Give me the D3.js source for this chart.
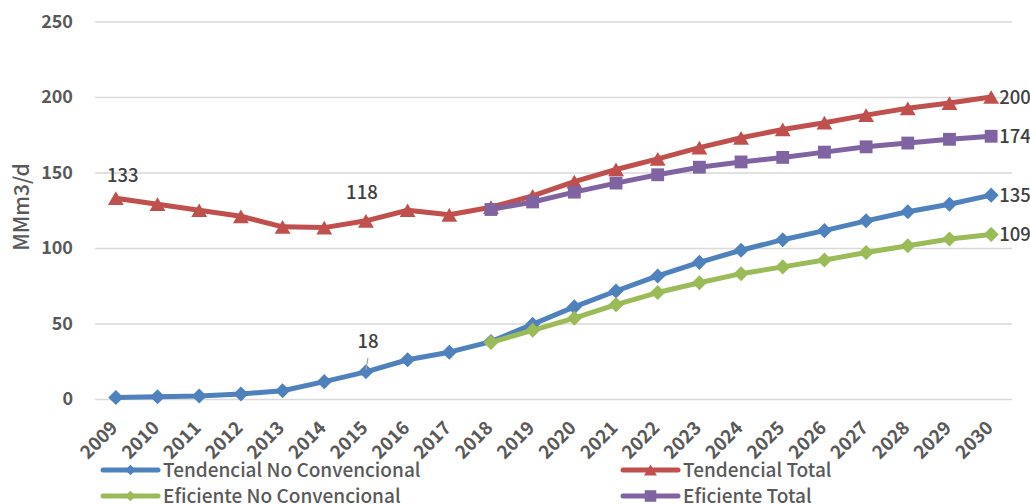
<!DOCTYPE html>
<html>
<head>
<meta charset="utf-8">
<script src="https://cdn.jsdelivr.net/npm/d3@7"></script>
<style>
  html, body { margin: 0; padding: 0; background: #fff; }
  svg { display: block; font-family: "Noto Sans CJK SC", "Noto Sans", sans-serif; }
</style>
</head>
<body>
<svg id="chart" width="1030" height="504"></svg>
<script>
// Gas demand scenarios (MMm3/d), 2009-2030
const years = d3.range(2009, 2031).map(String);
const tendencialNoConv = [1, 1.5, 2, 3.3, 5.5, 11.5, 18, 26, 31, 38, 49.5, 61, 71.5, 81.5, 90.5, 98.5, 105.5, 111.5, 118, 124, 129, 135];
const tendencialTotal  = [133, 129, 125, 121, 114, 113.5, 118, 125, 122, 127, 134.5, 144, 152, 159, 166.5, 173, 178.5, 183, 188, 192.5, 196, 200];
const eficienteNoConv  = [null, null, null, null, null, null, null, null, null, 37.5, 45.5, 53.5, 62.5, 70.5, 77, 83, 87.5, 92, 97, 101.5, 106, 109];
const eficienteTotal   = [null, null, null, null, null, null, null, null, null, 125.5, 130.5, 137, 143, 148.5, 153.5, 157, 160, 163.5, 167, 169.5, 172, 174];
const yTicks = [0, 50, 100, 150, 200, 250];

// Series in drawing order; legend is laid out row by row in two columns
const series = [
  { name: "Tendencial No Convencional", values: tendencialNoConv, color: "#4F81BD", symbol: "diamond" },
  { name: "Tendencial Total",           values: tendencialTotal,  color: "#C0504D", symbol: "triangle" },
  { name: "Eficiente No Convencional",  values: eficienteNoConv,  color: "#9BBB59", symbol: "diamond" },
  { name: "Eficiente Total",            values: eficienteTotal,   color: "#8064A2", symbol: "square" }
];

// Point labels: series index, year, placement
const pointLabels = [
  { s: 1, year: "2009", pos: "aboveRight" },
  { s: 1, year: "2015", pos: "aboveLeft" },
  { s: 0, year: "2015", pos: "leader" },
  { s: 1, year: "2030", pos: "right" },
  { s: 3, year: "2030", pos: "right" },
  { s: 0, year: "2030", pos: "right" },
  { s: 2, year: "2030", pos: "right" }
];

const FONT = "'Noto Sans CJK SC', 'Noto Sans', sans-serif";
const svg = d3.select("#chart");
const plot = { left: 95, right: 1012, top: 21.5, bottom: 399 };

const x = d3.scaleBand().domain(years).range([plot.left, plot.right]);
const cx = d => x(d) + x.bandwidth() / 2;
const y = d3.scaleLinear().domain([0, 250]).range([plot.bottom, plot.top]);

// Gridlines and y tick labels
const yAxis = d3.axisLeft(y).tickValues(yTicks).tickSize(-(plot.right - plot.left)).tickPadding(22);
const gy = svg.append("g").attr("transform", `translate(${plot.left},0)`).call(yAxis);
gy.select(".domain").remove();
gy.selectAll(".tick line").attr("stroke", "#D9D9D9").attr("stroke-width", 1.5);
gy.selectAll(".tick text")
  .attr("fill", "#595959").attr("font-size", 18).attr("font-weight", 600)
  .attr("font-family", FONT);

// X axis labels, rotated
const xAxis = d3.axisBottom(x).tickSize(0).tickPadding(0);
const gx = svg.append("g").attr("transform", `translate(0,${plot.bottom})`).call(xAxis);
gx.select(".domain").remove();
gx.selectAll(".tick text")
  .attr("fill", "#595959").attr("font-size", 18.5).attr("font-weight", 600)
  .attr("font-family", FONT)
  .attr("text-anchor", "end")
  .attr("dy", null).attr("y", 0)
  .attr("transform", "translate(3,30) rotate(-45)");

// Y axis title
svg.append("text")
  .attr("transform", "translate(29,207) rotate(-90)")
  .attr("text-anchor", "middle")
  .attr("fill", "#595959").attr("font-size", 21).attr("font-weight", 500)
  .text("MMm3/d");

// Marker shapes (plot markers and smaller legend markers)
const symbolTypes = { diamond: d3.symbolDiamond2, triangle: d3.symbolTriangle2, square: d3.symbolSquare2 };
const plotSizes   = { diamond: 145, triangle: 180, square: 210 };
const legendSizes = { diamond: 70,  triangle: 120, square: 170 };
const markerPath = (sym, sizes) => d3.symbol().type(symbolTypes[sym]).size(sizes[sym])();
// Triangle2 is centred on its circumcentre; shift so its box is centred on the point
const triShift = size => Math.sqrt(size) * 0.6824 / 4;

const line = d3.line()
  .defined(d => d.v != null)
  .x(d => cx(d.year))
  .y(d => y(d.v));

series.forEach(s => {
  const pts = years.map((yr, i) => ({ year: yr, v: s.values[i] }));
  const g = svg.append("g");
  g.append("path")
    .datum(pts)
    .attr("d", line)
    .attr("fill", "none")
    .attr("stroke", s.color)
    .attr("stroke-width", 5)
    .attr("stroke-linejoin", "round")
    .attr("stroke-linecap", "round");
  const dy = s.symbol === "triangle" ? triShift(plotSizes.triangle) : 0;
  g.selectAll("path.m")
    .data(pts.filter(d => d.v != null))
    .join("path")
    .attr("class", "m")
    .attr("d", markerPath(s.symbol, plotSizes))
    .attr("fill", s.color)
    .attr("transform", d => `translate(${cx(d.year)},${y(d.v) + dy})`);
});

// Value labels
const labelG = svg.append("g")
  .attr("fill", "#404040").attr("font-size", 18.5).attr("font-weight", 500);
pointLabels.forEach(l => {
  const s = series[l.s];
  const v = s.values[years.indexOf(l.year)];
  const px = cx(l.year), py = y(v);
  if (l.pos === "right") {
    labelG.append("text").attr("x", px + 8).attr("y", py).attr("dy", "0.36em").text(v);
  } else if (l.pos === "aboveRight") {
    labelG.append("text").attr("x", px + 7).attr("y", py - 16).attr("text-anchor", "middle").text(v);
  } else if (l.pos === "aboveLeft") {
    labelG.append("text").attr("x", px - 4).attr("y", py - 22).attr("text-anchor", "middle").text(v);
  } else {
    labelG.append("text").attr("x", px + 2).attr("y", py - 24).attr("text-anchor", "middle").text(v);
    svg.append("line")
      .attr("x1", px + 2).attr("y1", py - 14)
      .attr("x2", px).attr("y2", py - 2)
      .attr("stroke", "#A6A6A6").attr("stroke-width", 1.2);
  }
});

// Legend: two columns, two rows
const legendCols = [103, 623];
const legendRows = [470, 496];
series.forEach((s, i) => {
  const lx = legendCols[i % 2], ly = legendRows[Math.floor(i / 2)];
  const g = svg.append("g").attr("transform", `translate(${lx},${ly})`);
  g.append("line").attr("x1", 0).attr("x2", 55).attr("y1", 0).attr("y2", 0)
    .attr("stroke", s.color).attr("stroke-width", 5).attr("stroke-linecap", "round");
  const dy = s.symbol === "triangle" ? triShift(legendSizes.triangle) : 0;
  g.append("path").attr("d", markerPath(s.symbol, legendSizes)).attr("fill", s.color)
    .attr("transform", `translate(27.5,${dy})`);
  g.append("text").attr("x", 60).attr("y", 0).attr("dy", "0.36em")
    .attr("fill", "#595959").attr("font-size", 19).attr("font-weight", 500)
    .text(s.name);
});
</script>
</body>
</html>
